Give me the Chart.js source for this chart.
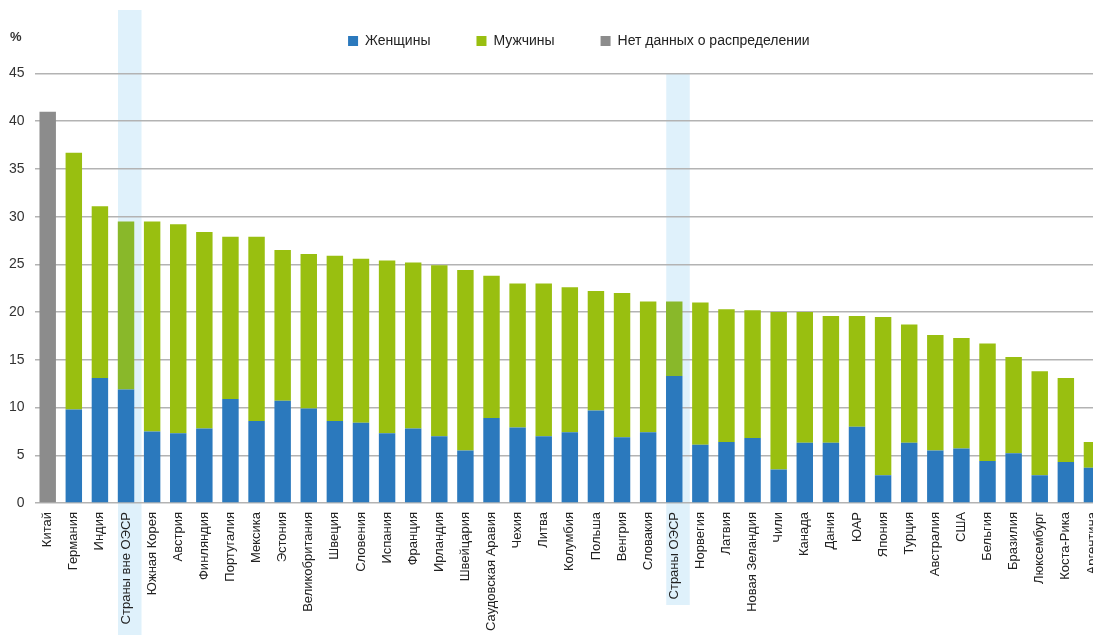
<!DOCTYPE html>
<html lang="ru">
<head>
<meta charset="utf-8">
<title>Женщины и мужчины по странам, %</title>
<script src="https://cdn.jsdelivr.net/npm/chart.js@4.4.0/dist/chart.umd.min.js"></script>
<style>
  html, body { margin: 0; padding: 0; background: #fff; overflow: hidden; }
  #wrap { position: relative; width: 1112px; height: 635px; }
</style>
</head>
<body>
<div id="wrap"><canvas id="chart"></canvas></div>
<script>
const countries = ['Китай', 'Германия', 'Индия', 'Страны вне ОЭСР', 'Южная Корея', 'Австрия', 'Финляндия',
  'Португалия', 'Мексика', 'Эстония', 'Великобритания', 'Швеция', 'Словения', 'Испания', 'Франция',
  'Ирландия', 'Швейцария', 'Саудовская Аравия', 'Чехия', 'Литва', 'Колумбия', 'Польша', 'Венгрия',
  'Словакия', 'Страны ОЭСР', 'Норвегия', 'Латвия', 'Новая Зеландия', 'Чили', 'Канада', 'Дания', 'ЮАР',
  'Япония', 'Турция', 'Австралия', 'США', 'Бельгия', 'Бразилия', 'Люксембург', 'Коста-Рика', 'Аргентина'];

const women = [null, 9.8, 13.1, 11.9, 7.5, 7.3, 7.8, 10.9, 8.6, 10.7, 9.9, 8.6, 8.4, 7.3, 7.8, 7.0, 5.5,
  8.9, 7.9, 7.0, 7.4, 9.7, 6.9, 7.4, 13.3, 6.1, 6.4, 6.8, 3.5, 6.3, 6.3, 8.0, 2.9, 6.3, 5.5, 5.7, 4.4,
  5.2, 2.9, 4.3, 3.7];
const men = [null, 26.9, 18.0, 17.6, 22.0, 21.9, 20.6, 17.0, 19.3, 15.8, 16.2, 17.3, 17.2, 18.1, 17.4,
  17.9, 18.9, 14.9, 15.1, 16.0, 15.2, 12.5, 15.1, 13.7, 7.8, 14.9, 13.9, 13.4, 16.5, 13.7, 13.3, 11.6,
  16.6, 12.4, 12.1, 11.6, 12.3, 10.1, 10.9, 8.8, 2.7];
// China has only a total, no split by sex
const noSplit = [41.0];

const yMax = 45;
const yStep = 5;

// aggregate rows get a shaded column behind them
const groupRows = ['Страны вне ОЭСР', 'Страны ОЭСР'];

const BLUE = '#2b79bd';
const GREEN = '#99bf10';
const GREEN_GROUP = '#89b82a';
const GREY = '#8c8c8c';

Chart.defaults.font.family = "'Liberation Sans', Arial, sans-serif";

const isGroup = i => groupRows.includes(countries[i]);

// light blue columns behind the OECD / non-OECD averages
const groupBands = {
  id: 'groupBands',
  beforeDraw(chart) {
    const { ctx, scales: { x }, chartArea } = chart;
    ctx.save();
    ctx.fillStyle = '#dff1fb';
    groupRows.forEach((name, n) => {
      const cx = x.getPixelForValue(countries.indexOf(name));
      const top = n === 0 ? 10 : chartArea.top;
      const bottom = n === 0 ? chart.height : 605;
      ctx.fillRect(cx - 8, top, 23.5, bottom - top);
    });
    ctx.restore();
  }
};

// pull the legend row up and slightly right of the plot centre
const legendNudge = {
  id: 'legendNudge',
  afterLayout(chart) {
    const lg = chart.legend;
    lg.left += 9; lg.right += 9;
    lg.top -= 15.5; lg.bottom -= 15.5;
  }
};

// unit sign above the y axis
const unitLabel = {
  id: 'unitLabel',
  afterDraw(chart) {
    const ctx = chart.ctx;
    ctx.save();
    ctx.font = "bold 13px 'Liberation Sans', Arial, sans-serif";
    ctx.fillStyle = '#333';
    ctx.textBaseline = 'middle';
    ctx.fillText('%', 10, 37);
    ctx.restore();
  }
};

const ctx = document.getElementById('chart').getContext('2d');
const chart = new Chart(ctx, {
  type: 'bar',
  data: {
    labels: countries,
    datasets: [
      {
        label: 'Женщины',
        data: women,
        backgroundColor: BLUE,
        stack: 'all'
      },
      {
        label: 'Мужчины',
        data: men,
        backgroundColor: c => isGroup(c.dataIndex) ? GREEN_GROUP : GREEN,
        stack: 'all'
      },
      {
        label: 'Нет данных о распределении',
        data: noSplit,
        backgroundColor: GREY,
        stack: 'all'
      }
    ]
  },
  options: {
    responsive: true,
    maintainAspectRatio: false,
    animation: false,
    datasets: {
      bar: { barPercentage: 0.63, categoryPercentage: 1 }
    },
    layout: { padding: { left: 0, right: 7, top: 3.5, bottom: 0 } },
    plugins: {
      legend: {
        position: 'top',
        fullSize: false,
        labels: {
          boxWidth: 10,
          boxHeight: 10,
          padding: 46,
          color: '#222',
          font: { size: 14 }
        }
      },
      tooltip: { enabled: false }
    },
    scales: {
      x: {
        stacked: true,
        grid: { display: false },
        border: { display: false },
        ticks: {
          autoSkip: false,
          minRotation: 90,
          maxRotation: 90,
          padding: 1,
          color: '#222',
          font: { size: 13 }
        },
        afterFit(scale) { scale.height = 132; }
      },
      y: {
        stacked: true,
        min: 0,
        max: yMax,
        ticks: {
          stepSize: yStep,
          padding: 10,
          color: '#333',
          font: { size: 14 }
        },
        grid: { color: '#b3b3b3', lineWidth: 1.5, drawTicks: false },
        border: { display: false },
        afterFit(scale) { scale.width = 34.65; }
      }
    }
  },
  plugins: [groupBands, legendNudge, unitLabel]
});
</script>
</body>
</html>
